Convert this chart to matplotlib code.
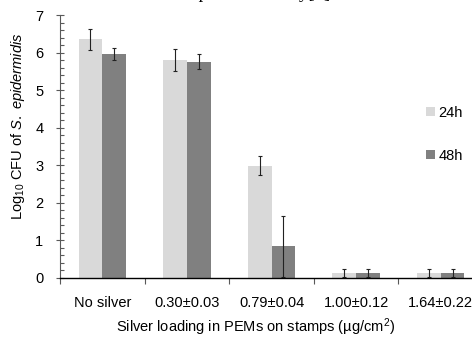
import numpy as np
import matplotlib
matplotlib.use("Agg")
import matplotlib.pyplot as plt
from matplotlib.ticker import MultipleLocator, FixedLocator

plt.rcParams["font.family"] = ["Liberation Sans", "DejaVu Sans"]
plt.rcParams["mathtext.fontset"] = "custom"
plt.rcParams["mathtext.rm"] = "Liberation Sans"
plt.rcParams["mathtext.it"] = "Liberation Sans:italic"

# data
categories = ["No silver", "0.30\u00b10.03", "0.79\u00b10.04", "1.00\u00b10.12", "1.64\u00b10.22"]
cfu_24h = [6.35, 5.81, 2.98, 0.12, 0.12]
err_24h = [0.28, 0.29, 0.25, 0.10, 0.10]
cfu_48h = [5.97, 5.76, 0.83, 0.12, 0.12]
err_48h = [0.16, 0.20, 0.82, 0.10, 0.10]

W, H = 472, 337
fig = plt.figure(figsize=(W / 100, H / 100), dpi=100)
ax = fig.add_axes([60 / W, 59.5 / H, 423 / W, 262.5 / H])

x = np.arange(len(categories))
bw = 0.28
ebar = dict(ecolor="#222222", elinewidth=0.8, capsize=1.6, capthick=0.8)
ax.bar(x - bw / 2, cfu_24h, bw, yerr=err_24h, color="#d9d9d9", label="24h",
       error_kw=ebar, zorder=2)
ax.bar(x + bw / 2, cfu_48h, bw, yerr=err_48h, color="#808080", label="48h",
       error_kw=ebar, zorder=2)

ax.set_xlim(-0.5, len(categories) - 0.5)
ax.set_ylim(0, 7)

# y axis
ax.yaxis.set_major_locator(MultipleLocator(1))
ax.yaxis.set_minor_locator(MultipleLocator(0.2))
ax.tick_params(axis="y", which="major", direction="inout", length=6, width=0.8,
               color="#595959", pad=9, labelsize=10.5)
ax.tick_params(axis="y", which="minor", direction="in", length=3, width=0.8,
               color="#595959")

# x axis: tick marks between groups, labels at group centres
ax.xaxis.set_major_locator(FixedLocator(np.arange(len(categories) + 1) - 0.5))
ax.xaxis.set_minor_locator(FixedLocator(x))
ax.xaxis.set_major_formatter(plt.NullFormatter())
ax.set_xticks(x, categories, minor=True)
ax.tick_params(axis="x", which="major", direction="out", length=4.5, width=0.8,
               color="#595959")
ax.tick_params(axis="x", which="minor", length=0, pad=13, labelsize=10.5)

for s in ["top", "right"]:
    ax.spines[s].set_visible(False)
ax.spines["left"].set_color("#595959")
ax.spines["left"].set_linewidth(0.8)
ax.spines["bottom"].set_color("black")
ax.spines["bottom"].set_linewidth(1.0)

ax.set_ylabel(r"Log$_{10}$ CFU of $\mathit{S.\ epidermidis}$", fontsize=10.5)
ax.yaxis.set_label_coords(-0.077, 0.575)
ax.set_xlabel("Silver loading in PEMs on stamps (\u00b5g/cm$^{2}$)", fontsize=10.5)
ax.xaxis.set_label_coords(0.463, -0.15)

ax.legend(loc="upper left", bbox_to_anchor=(366 / 423, 0.655), frameon=False,
          fontsize=10.5, handlelength=0.6, handleheight=0.6, handletextpad=0.25,
          labelspacing=2.0, borderpad=0, borderaxespad=0)

# clipped line of body text above the chart
fig.text(335 / W, 1 + 1.5 / H, "as in our previous study[4].", ha="right",
         va="baseline", fontsize=13.5, family="Liberation Serif")

fig.savefig("out.png", dpi=100)
